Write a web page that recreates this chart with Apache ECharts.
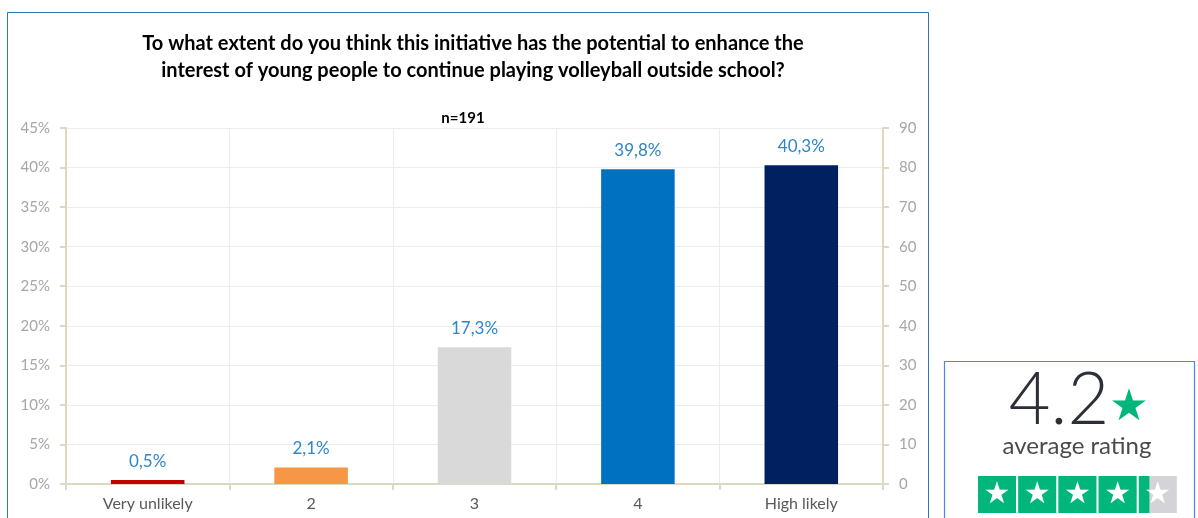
<!DOCTYPE html>
<html><head><meta charset="utf-8">
<script src="https://cdn.jsdelivr.net/npm/echarts@6/dist/echarts.min.js"></script>
<style>html,body{margin:0;padding:0;background:#fff}#c{width:1198px;height:518px}</style>
</head><body><div id="c"></div>
<script>
const categories = ['Very unlikely', '2', '3', '4', 'High likely'];
const shares = [0.5, 2.1, 17.3, 39.8, 40.3];
const barColors = ['#c00000', '#f79646', '#d9d9d9', '#0070c0', '#002060'];
const titleText = 'To what extent do you think this initiative has the potential to enhance the\ninterest of young people to continue playing volleyball outside school?';
const sampleText = 'n=191';
const ratingValue = 4.2;
const ratingText = 'average rating';

const chart = echarts.init(document.getElementById('c'), null, {renderer: 'canvas'});
const axisCol = '#ddd8c2';
const gridCol = '#ececec';
const starGreen = '#00b67a';

// rating stars boxes
const starGraphics = [];
const sx = 978, sy = 476, sw = 38, sh = 37, gap = 2.2;
for (let i = 0; i < 5; i++) {
  const x = sx + i * (sw + gap);
  const fill = Math.max(0, Math.min(1, ratingValue - i));
  starGraphics.push({type: 'rect', shape: {x: x, y: sy, width: sw, height: sh}, style: {fill: '#d4d4d8'}});
  if (fill > 0) starGraphics.push({type: 'rect', shape: {x: x, y: sy, width: fill >= 1 ? sw : sw * fill + 3, height: sh}, style: {fill: starGreen}});
  starGraphics.push({type: 'text', x: x + sw / 2, y: sy + sh / 2 + 1, style: {text: '★', fill: '#fff', font: '30px "DejaVu Sans"', align: 'center', verticalAlign: 'middle'}});
}

chart.setOption({
  animation: false,
  title: {
    text: titleText, left: 468, top: 25, textAlign: 'center',
    textStyle: {fontFamily: 'Lato', fontWeight: 'bold', fontSize: 20, color: '#000', lineHeight: 27}
  },
  graphic: [
    {type: 'rect', shape: {x: 7.5, y: 12.5, width: 921, height: 520}, style: {fill: 'none', stroke: '#2e75b6', lineWidth: 1}},
    {type: 'text', x: 463, y: 118, style: {text: sampleText, font: 'bold 15px Lato', fill: '#000', align: 'center', verticalAlign: 'middle'}},
    {type: 'rect', shape: {x: 944.5, y: 361.5, width: 250, height: 170}, style: {fill: '#fff', stroke: '#4a86e8', lineWidth: 1.2}},
    {type: 'text', x: 1059, y: 401, style: {text: String(ratingValue), font: '300 72px Lato', fill: '#2b3036', align: 'center', verticalAlign: 'middle'}},
    {type: 'text', x: 1129, y: 409, style: {text: '★', font: '44px "DejaVu Sans"', fill: starGreen, align: 'center', verticalAlign: 'middle'}},
    {type: 'text', x: 1077, y: 446, style: {text: ratingText, font: '24px Lato', fill: '#4a4a4a', align: 'center', verticalAlign: 'middle'}},
    ...starGraphics
  ],
  grid: {left: 66, right: 315, top: 128, bottom: 34},
  xAxis: {
    type: 'category', data: categories, boundaryGap: true,
    axisLine: {lineStyle: {color: axisCol, width: 2}},
    axisTick: {show: true, alignWithLabel: false, length: 6, lineStyle: {color: axisCol, width: 2}},
    splitLine: {show: true, lineStyle: {color: gridCol}},
    axisLabel: {color: '#595959', fontFamily: 'Lato', fontSize: 16, margin: 12}
  },
  yAxis: [
    {type: 'value', min: 0, max: 45, interval: 5, position: 'left',
     axisLine: {show: true, lineStyle: {color: axisCol, width: 2}},
     axisTick: {show: true, length: 6, lineStyle: {color: axisCol, width: 2}},
     splitLine: {show: true, lineStyle: {color: gridCol}},
     axisLabel: {formatter: '{value}%', color: '#a6a6a6', fontFamily: 'Lato', fontSize: 15, margin: 16}},
    {type: 'value', min: 0, max: 90, interval: 10, position: 'right',
     axisLine: {show: true, lineStyle: {color: axisCol, width: 2}},
     axisTick: {show: true, length: 6, lineStyle: {color: axisCol, width: 2}},
     splitLine: {show: false},
     axisLabel: {color: '#a6a6a6', fontFamily: 'Lato', fontSize: 15, margin: 16}}
  ],
  series: [{
    type: 'bar', yAxisIndex: 0, barWidth: '45%',
    data: shares.map((v, i) => ({value: v, itemStyle: {color: barColors[i]}})),
    label: {show: true, position: 'top', distance: 10, color: '#2e86c8', fontFamily: 'Lato', fontSize: 17,
      formatter: p => p.value.toFixed(1).replace('.', ',') + '%'}
  }]
});
</script></body></html>
